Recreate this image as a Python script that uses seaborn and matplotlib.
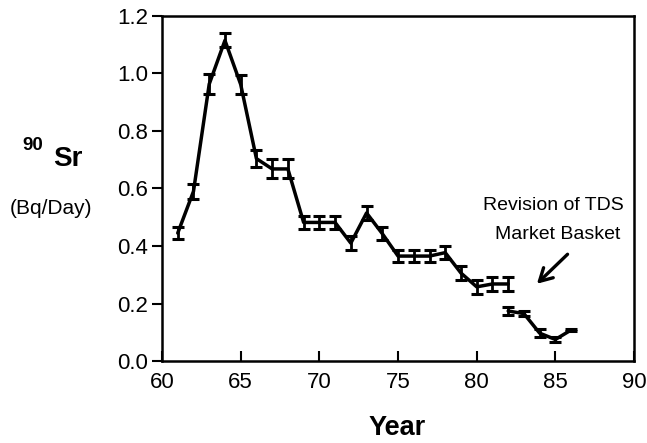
import matplotlib
matplotlib.use("Agg")
import matplotlib.pyplot as plt
import pandas as pd
import seaborn as sns

# Daily 90Sr intake from the Total Diet Study, before and after the market basket revision
years_early = [61, 62, 63, 64, 65, 66, 67, 68, 69, 70, 71, 72, 73, 74, 75, 76, 77, 78, 79, 80, 81, 82]
sr90_early = [0.445, 0.59, 0.963, 1.115, 0.962, 0.704, 0.668, 0.668, 0.482, 0.482, 0.482, 0.41,
              0.515, 0.443, 0.365, 0.365, 0.365, 0.377, 0.306, 0.258, 0.268, 0.268]
err_early = [0.022, 0.027, 0.035, 0.024, 0.034, 0.029, 0.033, 0.033, 0.024, 0.024, 0.024, 0.024,
             0.025, 0.023, 0.022, 0.022, 0.022, 0.022, 0.023, 0.025, 0.023, 0.023]

years_late = [82, 83, 84, 85, 86]
sr90_late = [0.174, 0.165, 0.097, 0.075, 0.108]
err_late = [0.013, 0.01, 0.014, 0.01, 0.005]

x_ticks = [60, 65, 70, 75, 80, 85, 90]
y_ticks = [0.0, 0.2, 0.4, 0.6, 0.8, 1.0, 1.2]

df = pd.concat([
    pd.DataFrame({"Year": years_early, "Sr90": sr90_early, "err": err_early, "period": "early"}),
    pd.DataFrame({"Year": years_late, "Sr90": sr90_late, "err": err_late, "period": "late"}),
], ignore_index=True)

sns.set_style("ticks")
plt.rcParams["font.family"] = ["Liberation Sans", "DejaVu Sans"]
plt.rcParams["text.color"] = "black"

fig = plt.figure(figsize=(6.47, 4.43), dpi=100)
ax = fig.add_axes([0.2504, 0.185, 0.7296, 0.779])

sns.lineplot(data=df, x="Year", y="Sr90", units="period", estimator=None,
             color="black", lw=2.5, legend=False, ax=ax)
for _, grp in df.groupby("period"):
    ax.errorbar(grp["Year"], grp["Sr90"], yerr=grp["err"], fmt="none",
                ecolor="black", elinewidth=2.0, capsize=4, capthick=2.2)

ax.set_xlim(60, 90)
ax.set_ylim(0, 1.2)
ax.set_xticks(x_ticks)
ax.set_yticks(y_ticks)
ax.set_xticklabels([str(t) for t in x_ticks])
ax.set_yticklabels([f"{t:.1f}" for t in y_ticks])
ax.set_xlabel("")
ax.set_ylabel("")

for s in ax.spines.values():
    s.set_visible(True)
    s.set_linewidth(1.8)
    s.set_color("black")
ax.tick_params(axis="x", direction="in", length=7, width=1.5, pad=8, labelsize=16,
               colors="black", labelcolor="black")
ax.tick_params(axis="y", direction="out", length=7, width=1.5, pad=3, labelsize=16,
               colors="black", labelcolor="black")

ax.text(89.35, 0.54, "Revision of TDS", ha="right", va="center", fontsize=14, color="black")
ax.text(89.15, 0.44, "Market Basket", ha="right", va="center", fontsize=14, color="black")
ax.annotate("", xy=(83.7, 0.262), xytext=(85.9, 0.378),
            arrowprops=dict(arrowstyle="->,head_length=0.9,head_width=0.5", lw=2.4, color="black"))

fig.text(0.051, 0.672, "90", ha="center", va="center", fontsize=13.5, fontweight="bold", color="black")
fig.text(0.105, 0.641, "Sr", ha="center", va="center", fontsize=20, fontweight="bold", color="black")
fig.text(0.079, 0.530, "(Bq/Day)", ha="center", va="center", fontsize=15, color="black")
fig.text(0.614, 0.033, "Year", ha="center", va="center", fontsize=19.5, fontweight="bold", color="black")

fig.savefig("out.png", dpi=100)
